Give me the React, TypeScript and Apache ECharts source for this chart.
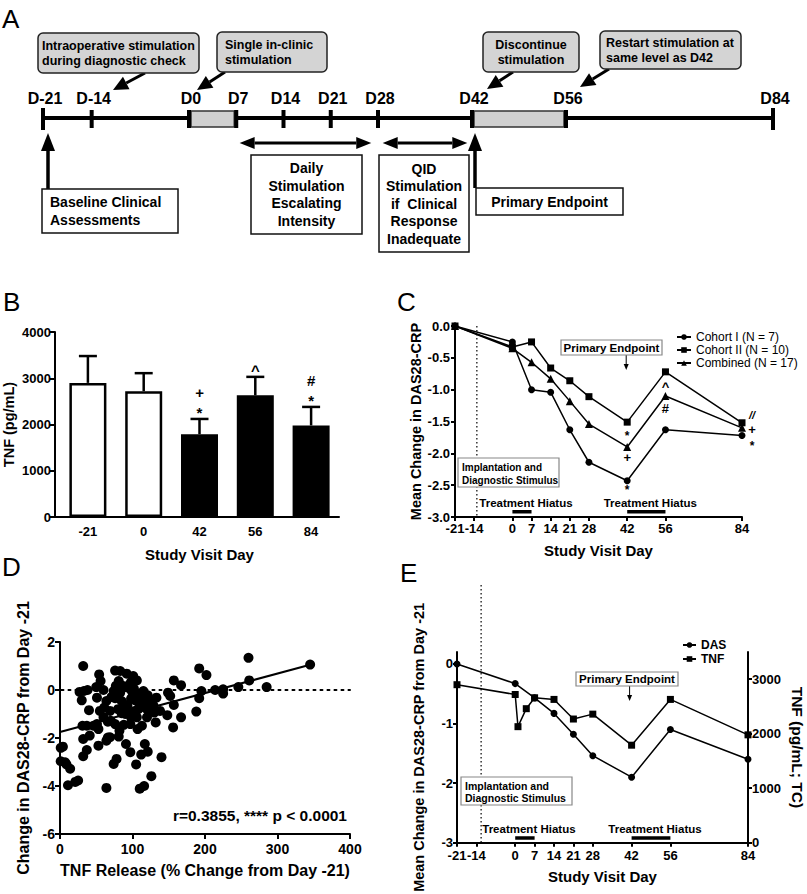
import React, { useEffect, useRef } from "react";
import * as echarts from "echarts";

const FONT = "'Liberation Sans', Arial, Helvetica, sans-serif";

// ---------------- Panel A: study timeline ----------------
const timelineDays = [-21, -14, 0, 7, 14, 21, 28, 42, 56, 84];
const timelineLabels = ["D-21", "D-14", "D0", "D7", "D14", "D21", "D28", "D42", "D56", "D84"];
const timelineEndDays = [-21, 84];
const pausedSpans = [[0, 7], [42, 56]];
const dailySpan = [7.5, 27];
const qidSpan = [28.7, 41.3];

// ---------------- Panel B: TNF by visit ----------------
const bCategories = ["-21", "0", "42", "56", "84"];
const bTnfMean = [2900, 2720, 1790, 2630, 1980];
const bTnfUpper = [3480, 3110, 2120, 3030, 2380];
const bFilled = [false, false, true, true, true];
const bMarks = [[], [], ["*", "+"], ["^"], ["*", "#"]];

// ---------------- Panel C: DAS28-CRP by cohort ----------------
const cNames = ["Cohort I (N = 7)", "Cohort II (N = 10)", "Combined (N = 17)"];
const cDays = [-21, 0, 7, 14, 21, 28, 42, 56, 84];
const cCohort1 = [0, -0.25, -1.0, -1.04, -1.63, -2.14, -2.43, -1.63, -1.72];
const cCohort2 = [0, -0.33, -0.25, -0.66, -0.86, -1.11, -1.51, -0.72, -1.52];
const cCombined = [0, -0.35, -0.57, -0.83, -1.18, -1.54, -1.9, -1.1, -1.6];
const dayTicks = [-21, -14, 0, 7, 14, 21, 28, 42, 56, 84];
const cMarkDays = [42, 42, 42, 56, 56, 87.7, 87.7, 87.7];
const cMarkValues = [-1.68, -2.07, -2.53, -0.9, -1.29, -1.40, -1.63, -1.84];
const cMarkTexts = ["*", "+", "*", "^", "#", "//", "+", "*"];
const hiatusSpans = [[0, 7], [42, 56]];
const implantDay = -13;

// ---------------- Panel D: scatter ----------------
const dTnf = [
  32, 260, 345, 192, 202, 261, 285, 246, 225, 214, 225, 195, 192, 188, 167, 157, 157, 167, 156, 149,
  152, 148, 132, 130, 126, 121, 116, 121, 129, 110, 108, 104, 101, 106, 98, 92, 94, 99, 101, 98,
  93, 93, 98, 97, 106, 107, 97, 91, 105, 117, 121, 112, 110, 116, 126, 140, 83, 76, 81, 85,
  77, 74, 71, 76, 85, 89, 80, 85, 70, 76, 82, 81, 66, 69, 64, 78, 74, 64, 54, 56,
  50, 60, 51, 64, 61, 51, 46, 53, 53, 37, 31, 40, 41, 32, 37, 32, 27, 30, 33, 38,
  25, 21, 11, 14, 7, 4, 1, 1, 110, 115, 124, 133, 138, 120, 113, 103, 83, 87, 69, 60,
  55, 88, 95, 102, 118, 90, 66, 9,
];
const dDas = [
  1.0, 1.34, 1.06, 0.9, 0.62, 0.4, 0.12, 0.12, 0.03, 0.0, -0.15, -0.04, -0.34, -0.9, 0.2, 0.4, -0.62, -1.14, -1.56, -0.11,
  -0.25, -1.05, -1.35, -0.94, -0.46, -0.22, -0.39, -0.83, -0.66, -0.66, -0.8, -0.43, 0.58, 0.4, 0.33, 0.68, 0.1, -0.04, -0.18, -0.36,
  -0.62, -0.87, -1.14, -1.42, -1.14, -1.63, -2.59, -2.25, -3.1, -2.25, -2.57, -2.69, -4.11, -4.0, -3.59, -2.8, 0.79, 0.81, 0.37, 0.19,
  0.17, -0.04, -0.29, -0.34, -0.46, -0.63, -0.8, -0.97, -1.28, -1.42, -1.7, -1.94, -1.32, -1.97, -2.11, -2.87, -3.08, -4.08, 0.65, 0.37,
  0.12, 0.0, -0.32, -0.46, -0.73, -1.42, -1.49, -1.63, -2.32, -1.49, -1.49, -0.84, -1.9, -2.04, -2.5, -2.76, -0.08, -0.43, -0.04, 0.0,
  -3.77, -3.83, -3.97, -3.28, -3.01, -2.36, -2.97, -2.41, -0.18, -0.04, -0.52, -0.32, -0.87, -1.14, -1.49, -0.87, -0.11, 0.1, -0.87, -1.14,
  -0.87, -1.45, 0.2, 0.05, -0.75, -1.0, -1.98, -3.1,
];
const dFitX = [0, 345];
const dFitY = [-1.75, 1.05];
const dStatText = "r=0.3855, **** p < 0.0001";

// ---------------- Panel E: DAS vs TNF over time ----------------
const eDasDays = [-21, 0, 7, 14, 21, 28, 42, 56, 84];
const eDas = [0, -0.33, -0.57, -0.83, -1.18, -1.54, -1.9, -1.1, -1.6];
const eTnfDays = [-21, 0, 1, 4, 7, 14, 21, 28, 42, 56, 84];
const eTnf = [2900, 2720, 2130, 2460, 2660, 2630, 2270, 2360, 1790, 2630, 1980];
const eImplantDay = -12.3;

// schematic scale for panel A (anchor days -> pixels)
const aScaleDays = [-21, 0, 28, 56, 84];
const aScaleX = [43, 189, 378, 566, 773];
function dayX(d: number) {
  for (let i = 0; i < aScaleDays.length - 1; i++) {
    if (d <= aScaleDays[i + 1] || i === aScaleDays.length - 2) {
      const t = (d - aScaleDays[i]) / (aScaleDays[i + 1] - aScaleDays[i]);
      return aScaleX[i] + t * (aScaleX[i + 1] - aScaleX[i]);
    }
  }
  return 0;
}

const axisLine = { show: true, onZero: false, lineStyle: { color: "#000", width: 2 } };
const tick = (len: number) => ({ show: true, length: len, lineStyle: { color: "#000", width: 2 } });
const plain = (v: number) => String(v);
const lbl = (size: number, margin: number) => ({
  color: "#000", fontFamily: FONT, fontWeight: "bold", fontSize: size, margin,
});
const nameStyle = (size: number) => ({ color: "#000", fontFamily: FONT, fontWeight: "bold", fontSize: size });

function txt(text: string, x: number, y: number, size: number, o: any = {}) {
  return {
    type: "text", x, y, silent: true, z: 20,
    style: {
      text, fill: "#000", fontFamily: FONT, fontWeight: o.weight ?? "bold", fontSize: size,
      fontStyle: o.italic ? "italic" : "normal",
      align: o.align ?? "left", verticalAlign: "middle", lineHeight: o.lineHeight,
    },
  };
}
function line(x1: number, y1: number, x2: number, y2: number, w: number, extra: any = {}) {
  return { type: "line", silent: true, z: 10, shape: { x1, y1, x2, y2 }, style: { stroke: "#000", lineWidth: w, ...extra } };
}
function rect(x: number, y: number, w: number, h: number, style: any, r = 0) {
  return { type: "rect", silent: true, z: 12, shape: { x, y, width: w, height: h, r }, style };
}
function arrowHead(x1: number, y1: number, x2: number, y2: number, hl: number, hw: number) {
  const a = Math.atan2(y2 - y1, x2 - x1);
  const bx = x2 - hl * Math.cos(a);
  const by = y2 - hl * Math.sin(a);
  const px = (-Math.sin(a) * hw) / 2;
  const py = (Math.cos(a) * hw) / 2;
  return {
    base: [bx, by],
    el: { type: "polygon", silent: true, z: 13, shape: { points: [[x2, y2], [bx + px, by + py], [bx - px, by - py]] }, style: { fill: "#000" } },
  };
}
function arrow(x1: number, y1: number, x2: number, y2: number, lw: number, hl: number, hw: number) {
  const h = arrowHead(x1, y1, x2, y2, hl, hw);
  return [line(x1, y1, h.base[0], h.base[1], lw), h.el];
}
function doubleArrow(x1: number, x2: number, y: number, lw: number, hl: number, hw: number) {
  const a = arrowHead(x2, y, x1, y, hl, hw);
  const b = arrowHead(x1, y, x2, y, hl, hw);
  return [line(a.base[0], y, b.base[0], y, lw), a.el, b.el];
}

function buildOption(): any {
  const bErrRender = (params: any, api: any) => {
    const i = params.dataIndex;
    const base = api.coord([api.value(0), api.value(1)]);
    const top = api.coord([api.value(0), api.value(2)]);
    const children: any[] = [
      { type: "line", shape: { x1: base[0], y1: base[1], x2: top[0], y2: top[1] }, style: { stroke: "#000", lineWidth: 2.5 } },
      { type: "line", shape: { x1: top[0] - 9, y1: top[1], x2: top[0] + 9, y2: top[1] }, style: { stroke: "#000", lineWidth: 2.5 } },
    ];
    bMarks[i].forEach((m: string, k: number) => {
      const visual = top[1] - 10 - 16 * k;
      const dy = m === "*" || m === "^" ? 4 : 0;
      children.push({
        type: "text", x: top[0], y: visual + dy,
        style: { text: m, fill: "#000", fontFamily: FONT, fontWeight: "bold", fontSize: 15, align: "center", verticalAlign: "middle" },
      });
    });
    return { type: "group", children };
  };
  const cMarkRender = (params: any, api: any) => {
    const p = api.coord([api.value(0), api.value(1)]);
    const t = cMarkTexts[params.dataIndex];
    const dy = t === "*" || t === "^" ? 3 : 0;
    return {
      type: "text", x: p[0], y: p[1] + dy,
      style: {
        text: t, fill: "#000", fontFamily: FONT, fontWeight: "bold", fontSize: t === "*" ? 12 : t === "//" ? 11 : 13,
        fontStyle: t === "//" ? "italic" : "normal", align: "center", verticalAlign: "middle",
      },
    };
  };
  const lineSeries = (name: string, xi: number, yi: number, xs: number[], ys: number[], symbol: string, size: number) => ({
    type: "line", name, xAxisIndex: xi, yAxisIndex: yi, data: xs.map((x, i) => [x, ys[i]]),
    symbol, symbolSize: size, itemStyle: { color: "#000", opacity: 1 }, lineStyle: { color: "#000", width: 1.5 },
    silent: true, z: 3,
  });

  return {
    animation: false,
    backgroundColor: "#fff",
    textStyle: { fontFamily: FONT },
    grid: [
      { left: 60, top: 332, width: 279, height: 185 },
      { left: 455, top: 326, width: 287, height: 191 },
      { left: 60, top: 642, width: 290, height: 192 },
      { left: 457, top: 652, width: 291, height: 194 },
    ],
    legend: [
      {
        data: cNames, orient: "vertical", left: 671, top: 326, itemWidth: 14, itemHeight: 7, itemGap: 1,
        selectedMode: false, textStyle: { fontFamily: FONT, fontSize: 12, color: "#000", lineHeight: 12 },
      },
      {
        data: ["DAS", "TNF"], orient: "vertical", left: 677, top: 634, itemWidth: 13, itemHeight: 7, itemGap: 2,
        selectedMode: false, textStyle: { fontFamily: FONT, fontSize: 12, fontWeight: "bold", color: "#000", lineHeight: 12 },
      },
    ],
    xAxis: [
      {
        gridIndex: 0, type: "category", data: bCategories, axisLine, axisTick: { show: false },
        axisLabel: lbl(13, 8), splitLine: { show: false },
        name: "Study Visit Day", nameLocation: "middle", nameGap: 30, nameTextStyle: nameStyle(15),
      },
      {
        gridIndex: 1, type: "value", min: -21, max: 84, axisLine,
        axisTick: { ...tick(4), customValues: dayTicks }, axisLabel: { ...lbl(13, 5), customValues: dayTicks, formatter: plain },
        splitLine: { show: false },
        name: "Study Visit Day", nameLocation: "middle", nameGap: 26, nameTextStyle: nameStyle(15),
      },
      {
        gridIndex: 2, type: "value", min: 0, max: 400, interval: 100, axisLine, axisTick: tick(5),
        axisLabel: { ...lbl(14, 8), formatter: plain }, splitLine: { show: false },
        name: "TNF Release (% Change from Day -21)", nameLocation: "middle", nameGap: 28, nameTextStyle: nameStyle(16),
      },
      {
        gridIndex: 3, type: "value", min: -21, max: 84, axisLine,
        axisTick: { ...tick(4), customValues: dayTicks }, axisLabel: { ...lbl(13, 6), customValues: dayTicks, formatter: plain },
        splitLine: { show: false },
        name: "Study Visit Day", nameLocation: "middle", nameGap: 26, nameTextStyle: nameStyle(15),
      },
    ],
    yAxis: [
      {
        gridIndex: 0, type: "value", min: 0, max: 4000, interval: 1000, offset: 5, axisLine, axisTick: tick(5),
        axisLabel: { ...lbl(13, 4), formatter: plain }, splitLine: { show: false },
        name: "TNF (pg/mL)", nameLocation: "middle", nameGap: 39, nameRotate: 90, nameTextStyle: nameStyle(14.5),
      },
      {
        gridIndex: 1, type: "value", min: -3, max: 0, interval: 0.5, axisLine, axisTick: tick(4),
        axisLabel: { ...lbl(13, 5), formatter: (v: number) => (Math.abs(v) < 1e-9 ? "0.0" : v.toFixed(1)) },
        splitLine: { show: false },
        name: "Mean Change in DAS28-CRP", nameLocation: "middle", nameGap: 30, nameRotate: 90, nameTextStyle: nameStyle(14.5),
      },
      {
        gridIndex: 2, type: "value", min: -6, max: 2, interval: 2, axisLine, axisTick: tick(5),
        axisLabel: { ...lbl(14, 5), formatter: plain }, splitLine: { show: false },
        name: "Change in DAS28-CRP from Day -21", nameLocation: "middle", nameGap: 29, nameRotate: 90, nameTextStyle: nameStyle(16),
      },
      {
        gridIndex: 3, type: "value", min: -3, max: 0.2, axisLine,
        axisTick: { ...tick(4), customValues: [-3, -2, -1, 0] },
        axisLabel: { ...lbl(13, 4), customValues: [-3, -2, -1, 0], formatter: plain },
        splitLine: { show: false },
        name: "Mean Change in DAS28-CRP from Day -21", nameLocation: "middle", nameGap: 31, nameRotate: 90, nameTextStyle: nameStyle(14.5),
      },
      {
        gridIndex: 3, type: "value", position: "right", min: 0, max: 3500, axisLine,
        axisTick: { ...tick(4), customValues: [0, 1000, 2000, 3000] },
        axisLabel: { ...lbl(13, 4), customValues: [0, 1000, 2000, 3000], formatter: plain }, splitLine: { show: false },
        name: "TNF (pg/mL; TC)", nameLocation: "middle", nameGap: 41, nameRotate: -90, nameTextStyle: nameStyle(15.5),
      },
    ],
    series: [
      {
        type: "bar", xAxisIndex: 0, yAxisIndex: 0, barWidth: 37, silent: true,
        data: bTnfMean.map((v, i) => ({
          value: v, itemStyle: { color: bFilled[i] ? "#000" : "#fff", borderColor: "#000", borderWidth: 2.5 },
        })),
      },
      {
        type: "custom", xAxisIndex: 0, yAxisIndex: 0, silent: true, z: 5,
        data: bCategories.map((_, i) => [i, bTnfMean[i], bTnfUpper[i]]), renderItem: bErrRender,
      },
      lineSeries(cNames[0], 1, 1, cDays, cCohort1, "circle", 7),
      lineSeries(cNames[1], 1, 1, cDays, cCohort2, "rect", 7),
      lineSeries(cNames[2], 1, 1, cDays, cCombined, "triangle", 8),
      {
        type: "custom", xAxisIndex: 1, yAxisIndex: 1, silent: true, clip: false, z: 6,
        data: cMarkDays.map((d, i) => [d, cMarkValues[i]]), renderItem: cMarkRender,
      },
      {
        type: "scatter", xAxisIndex: 2, yAxisIndex: 2, symbolSize: 10, silent: true, z: 4,
        itemStyle: { color: "#000", opacity: 1 }, data: dTnf.map((x, i) => [x, dDas[i]]),
      },
      {
        type: "line", xAxisIndex: 2, yAxisIndex: 2, symbol: "none", silent: true, z: 5,
        lineStyle: { color: "#000", width: 2 }, data: dFitX.map((x, i) => [x, dFitY[i]]),
      },
      {
        type: "line", xAxisIndex: 2, yAxisIndex: 2, symbol: "none", silent: true, z: 2,
        lineStyle: { color: "#000", width: 2, type: [2, 5], cap: "round" }, data: [[2, 0], [400, 0]],
      },
      lineSeries("DAS", 3, 3, eDasDays, eDas, "circle", 7),
      lineSeries("TNF", 3, 4, eTnfDays, eTnf, "rect", 7),
    ],
  };
}

function buildGraphics(chart: any): any[] {
  const g: any[] = [];
  // panel letters
  g.push(txt("A", 2, 19, 26, { weight: "normal" }));
  g.push(txt("B", 3, 302, 26, { weight: "normal" }));
  g.push(txt("C", 397, 302, 26, { weight: "normal" }));
  g.push(txt("D", 2, 567, 26, { weight: "normal" }));
  g.push(txt("E", 400, 573, 26, { weight: "normal" }));

  // ---------- Panel A ----------
  const ty = 118;
  g.push(line(dayX(-21), ty, dayX(84), ty, 4));
  pausedSpans.forEach(([a, b]) => {
    g.push(rect(dayX(a) + 2, 111, dayX(b) - dayX(a) - 4, 16, { fill: "#d0d0d0", stroke: "#333", lineWidth: 1.5 }));
  });
  timelineDays.forEach((d, i) => {
    const end = timelineEndDays.includes(d);
    g.push(rect(dayX(d) - 2, end ? 108 : 110, 4, end ? 22 : 18, { fill: "#000" }));
    g.push(txt(timelineLabels[i], dayX(d) + 2, 98, 16, { align: "center" }));
  });
  const callouts = [
    { x: 38, y: 33, w: 161, h: 40, lines: ["Intraoperative stimulation", "during diagnostic check"], align: "left", tx: 42, from: [145, 73], to: [113, 90] },
    { x: 217, y: 32, w: 110, h: 40, lines: ["Single in-clinic", "stimulation"], align: "left", tx: 225, from: [225, 72], to: [197, 90] },
    { x: 483, y: 32, w: 96, h: 40, lines: ["Discontinue", "stimulation"], align: "center", tx: 531, from: [513, 72], to: [487, 89] },
    { x: 600, y: 31, w: 141, h: 38, lines: ["Restart stimulation at", "same level as D42"], align: "left", tx: 606, from: [609, 69], to: [580, 87] },
  ];
  callouts.forEach((c) => {
    g.push(rect(c.x, c.y, c.w, c.h, { fill: "#d4d4d4", stroke: "#222", lineWidth: 1.5 }, 5));
    const cy = c.y + c.h / 2;
    c.lines.forEach((l, k) => g.push(txt(l, c.tx, cy - 7.5 + 15 * k, 12.5, { align: c.align })));
    g.push(...arrow(c.from[0], c.from[1], c.to[0], c.to[1], 3, 15, 14));
  });
  g.push(...doubleArrow(dayX(dailySpan[0]), dayX(dailySpan[1]), 143, 3, 15, 12));
  g.push(...doubleArrow(dayX(qidSpan[0]), dayX(qidSpan[1]), 143, 3, 15, 12));
  g.push(...arrow(dayX(-21) + 5, 189, dayX(-21) + 5, 133, 3.5, 18, 14));
  g.push(...arrow(dayX(42) + 3, 188, dayX(42) + 3, 133, 3.5, 18, 14));
  const boxes = [
    { x: 42, y: 189, w: 136, h: 44, lines: ["Baseline Clinical", "Assessments"], align: "left", tx: 50 },
    { x: 251, y: 155, w: 111, h: 79, lines: ["Daily", "Stimulation", "Escalating", "Intensity"], align: "center", tx: 306.5 },
    { x: 379, y: 155, w: 90, h: 97, lines: ["QID", "Stimulation", "if  Clinical", "Response", "Inadequate"], align: "center", tx: 424 },
    { x: 476, y: 188, w: 147, h: 27, lines: ["Primary Endpoint"], align: "center", tx: 549.5 },
  ];
  boxes.forEach((b) => {
    g.push(rect(b.x, b.y, b.w, b.h, { fill: "#fff", stroke: "#111", lineWidth: 1.5 }));
    const n = b.lines.length;
    const cy = b.y + b.h / 2;
    b.lines.forEach((l, k) => g.push(txt(l, b.tx, cy + (k - (n - 1) / 2) * 17.5, 14, { align: b.align })));
  });

  // ---------- Panel B ----------
  g.push(line(54, 517, 61, 517, 2));

  // ---------- Panel C ----------
  const cpx = (d: number, v: number) => chart.convertToPixel({ xAxisIndex: 1, yAxisIndex: 1 }, [d, v]);
  const cTop = cpx(implantDay, 0);
  const cBot = cpx(implantDay, -3);
  g.push(line(cTop[0], cTop[1], cBot[0], cBot[1], 1.2, { lineDash: [1.5, 2.5] }));
  hiatusSpans.forEach(([a, b]) => {
    const p0 = cpx(a, -3);
    const p1 = cpx(b, -3);
    g.push(rect(p0[0], p0[1] - 7, p1[0] - p0[0], 3.5, { fill: "#000" }));
    g.push(txt("Treatment Hiatus", (p0[0] + p1[0]) / 2 + 4, p0[1] - 14, 11.5, { align: "center" }));
  });
  g.push(rect(561, 340, 101, 15, { fill: "#fff", stroke: "#888", lineWidth: 1.2 }));
  g.push(txt("Primary Endpoint", 611.5, 347.5, 11.5, { align: "center" }));
  const cPe = cpx(42, 0);
  g.push(...arrow(cPe[0] - 1, 355, cPe[0] - 1, 370, 1, 6, 5));
  g.push(rect(458, 458, 101, 29, { fill: "#fff", stroke: "#888", lineWidth: 1.2 }));
  g.push(txt("Implantation and", 462, 467.5, 10));
  g.push(txt("Diagnostic Stimulus", 462, 480.5, 10));

  // ---------- Panel D ----------
  g.push(txt(dStatText, 347, 815, 15.5, { align: "right" }));

  // ---------- Panel E ----------
  const epx = (d: number, v: number) => chart.convertToPixel({ xAxisIndex: 3, yAxisIndex: 3 }, [d, v]);
  const eBot = epx(eImplantDay, -3);
  g.push(line(eBot[0], 585, eBot[0], eBot[1], 1.2, { lineDash: [1.5, 2.5] }));
  hiatusSpans.forEach(([a, b]) => {
    const p0 = epx(a, -3);
    const p1 = epx(b, -3);
    g.push(rect(p0[0], p0[1] - 6.5, p1[0] - p0[0], 3.5, { fill: "#000" }));
    g.push(txt("Treatment Hiatus", (p0[0] + p1[0]) / 2 + 4, p0[1] - 14, 11.5, { align: "center" }));
  });
  g.push(rect(576, 672, 102, 14, { fill: "#fff", stroke: "#888", lineWidth: 1.2 }));
  g.push(txt("Primary Endpoint", 627, 679, 11.5, { align: "center" }));
  const ePe = epx(42, 0);
  g.push(...arrow(ePe[0] - 2, 686, ePe[0] - 2, 701, 1, 6, 5));
  g.push(rect(461, 777, 111, 28, { fill: "#fff", stroke: "#888", lineWidth: 1.2 }));
  g.push(txt("Implantation and", 465, 786, 10.5));
  g.push(txt("Diagnostic Stimulus", 465, 798, 10.5));
  return g;
}

export default function App() {
  const ref = useRef<HTMLDivElement>(null);
  useEffect(() => {
    const chart = echarts.init(ref.current as HTMLDivElement, null, { renderer: "svg", width: 807, height: 894 });
    chart.setOption(buildOption());
    chart.setOption({ graphic: { elements: buildGraphics(chart) } });
    return () => chart.dispose();
  }, []);
  return (
    <div
      ref={ref}
      style={{ position: "absolute", left: 0, top: 0, width: 807, height: 894, background: "#fff" }}
    />
  );
}
